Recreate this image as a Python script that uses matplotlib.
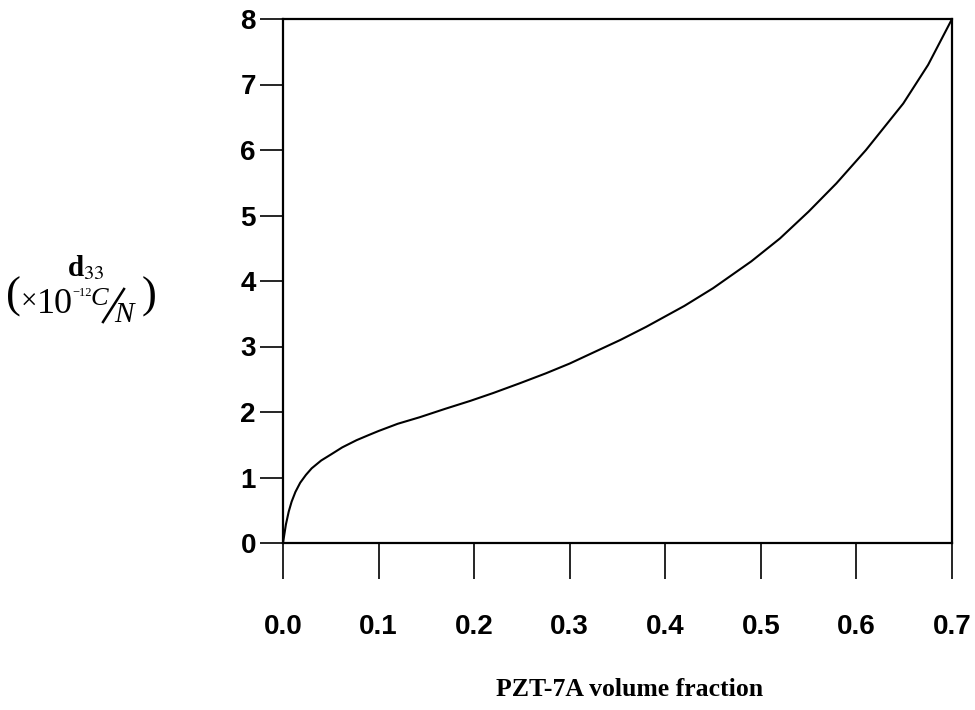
import numpy as np
import matplotlib
matplotlib.use('Agg')
import matplotlib.pyplot as plt
from matplotlib.lines import Line2D

# values
vol_frac = [0.0, 0.003, 0.006, 0.009, 0.013, 0.018, 0.024, 0.030, 0.040, 0.050, 0.062,
            0.077, 0.090, 0.100, 0.120, 0.143, 0.170, 0.196, 0.220, 0.248, 0.275,
            0.300, 0.325, 0.353, 0.380, 0.420, 0.450, 0.490, 0.520, 0.550, 0.579,
            0.610, 0.649, 0.675, 0.700]
d33 = [0.0, 0.28, 0.48, 0.63, 0.78, 0.92, 1.04, 1.14, 1.26, 1.35, 1.46,
       1.57, 1.65, 1.71, 1.82, 1.92, 2.05, 2.17, 2.29, 2.44, 2.59,
       2.74, 2.91, 3.10, 3.30, 3.62, 3.89, 4.30, 4.65, 5.06, 5.49,
       6.00, 6.71, 7.30, 8.00]

xticks = [0.0, 0.1, 0.2, 0.3, 0.4, 0.5, 0.6, 0.7]
yticks = [0, 1, 2, 3, 4, 5, 6, 7, 8]

plt.rcParams['mathtext.fontset'] = 'stix'

W, H = 975, 710
fig = plt.figure(figsize=(W / 100, H / 100), dpi=100)
ax = fig.add_axes([283/W, 1 - 543/H, 669/W, 524/H])

ax.plot(vol_frac, d33, color='black', linewidth=1.5)
ax.set_xlim(0, 0.7)
ax.set_ylim(0, 8)

ax.set_xticks(xticks)
ax.set_xticklabels(['%.1f' % v for v in xticks])
ax.set_yticks(yticks)
for lab in ax.get_xticklabels() + ax.get_yticklabels():
    lab.set_fontfamily('Liberation Sans')
    lab.set_fontweight('bold')
    lab.set_fontsize(20)

ax.tick_params(axis='x', direction='out', length=26, width=1.2, pad=25)
ax.tick_params(axis='y', direction='out', length=16.5, width=1.2, pad=3)
for s in ax.spines.values():
    s.set_linewidth(1.6)


def ftext(x, y, s, **kw):
    # place text by pixel position (from top-left), baseline aligned
    kw.setdefault('family', 'Liberation Serif')
    fig.text(x / W, 1 - y / H, s, ha='left', va='baseline', **kw)


# y label: d33 (x10^-12 C/N)
fig.text(86/W, 1 - 268/H, r'd$_{33}$', family='Liberation Serif', fontweight='bold',
         fontsize=21, ha='center', va='center')
ftext(6, 308, '(', fontsize=32)
ftext(21, 310, '\u00d7', fontsize=21)
ftext(37, 313, '10', fontsize=26)
ftext(72, 296, '\u221212', fontsize=9)
ftext(91, 305, 'C', fontsize=19, style='italic')
fig.add_artist(Line2D([103/W, 124/W], [1 - 322/H, 1 - 289/H], color='black', lw=1.8))
ftext(114, 322, 'N', fontsize=21, style='italic')
ftext(142, 308, ')', fontsize=32)

fig.text(630/W, 1 - 690/H, 'PZT-7A volume fraction', family='Liberation Serif',
         fontweight='bold', fontsize=18.5, ha='center', va='center')

plt.savefig('out.png', dpi=100)
plt.close()
